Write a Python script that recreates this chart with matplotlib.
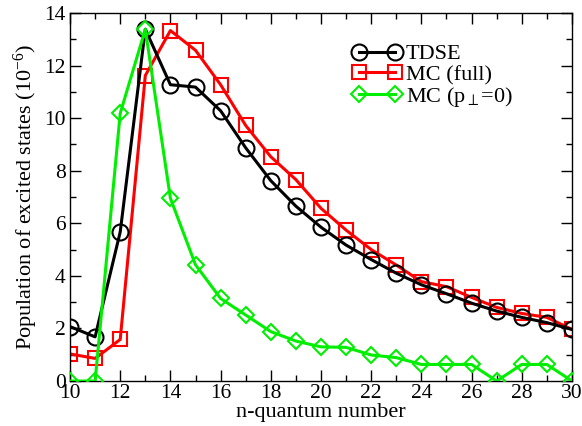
import numpy as np
import matplotlib
matplotlib.use("Agg")
import matplotlib.pyplot as plt
from matplotlib.ticker import MultipleLocator

plt.rcParams["font.family"] = ["Liberation Serif", "DejaVu Serif"]
plt.rcParams["mathtext.fontset"] = "custom"
plt.rcParams["mathtext.rm"] = "Liberation Serif"
plt.rcParams["mathtext.it"] = "Liberation Serif:italic"
plt.rcParams["mathtext.fallback"] = "stix"

# ====== DATA ======
n_vals = list(range(10, 31))
tdse = [2.07, 1.68, 5.67, 13.38, 11.27, 11.18, 10.28, 8.87, 7.62, 6.65, 5.85,
        5.17, 4.62, 4.1, 3.66, 3.32, 2.96, 2.66, 2.42, 2.22, 1.96]
mc_full = [1.03, 0.86, 1.58, 11.62, 13.33, 12.58, 11.27, 9.72, 8.53, 7.66, 6.57,
           5.74, 5.0, 4.41, 3.78, 3.59, 3.18, 2.8, 2.57, 2.42, 1.96]
mc_pperp0 = [0.0, 0.0, 10.18, 13.38, 6.95, 4.42, 3.14, 2.51, 1.88, 1.52, 1.3,
             1.28, 0.99, 0.89, 0.63, 0.63, 0.63, 0.0, 0.63, 0.63, 0.0]

# ====== GRAF ======
fig = plt.figure(figsize=(5.82, 4.26), dpi=100)
ax = fig.add_axes([0.1203, 0.1056, 0.8625, 0.864])

ax.plot(n_vals, tdse, color="black", lw=2.2, marker="o", ms=11.5,
        mfc="none", mec="black", mew=1.5, label="TDSE", zorder=3)
ax.plot(n_vals, mc_full, color="red", lw=2.2, marker="s", ms=10,
        mfc="none", mec="red", mew=1.5, label="MC (full)", zorder=2)
ax.plot(n_vals, mc_pperp0, color="#00ee00", lw=2.2, marker="D", ms=8.5,
        mfc="none", mec="#00ee00", mew=1.5, label=r"MC (p$_{\perp}$=0)", zorder=4)

ax.set_xlim(10, 30)
ax.set_ylim(0, 14)
ax.xaxis.set_major_locator(MultipleLocator(2))
ax.xaxis.set_minor_locator(MultipleLocator(1))
ax.yaxis.set_major_locator(MultipleLocator(2))
ax.yaxis.set_minor_locator(MultipleLocator(1))
ax.tick_params(which="both", direction="in", top=True, right=True,
               labelsize=15.5, width=1.0)
ax.tick_params(which="major", length=8)
ax.tick_params(which="minor", length=4)
ax.tick_params(axis="x", pad=2)
ax.tick_params(axis="y", pad=3)
for s in ax.spines.values():
    s.set_linewidth(1.0)

ax.set_xlabel("n-quantum number", fontsize=16, labelpad=0.5)
ax.set_ylabel(r"Population of excited states (10$^{-6}$)", fontsize=16, labelpad=3)

ax.legend(loc="upper left", bbox_to_anchor=(0.545, 0.94), frameon=False,
          numpoints=2, handlelength=2.2, fontsize=16, labelspacing=0.0,
          handletextpad=0.2, borderaxespad=0)

plt.savefig("out.png", dpi=100)
plt.close(fig)
